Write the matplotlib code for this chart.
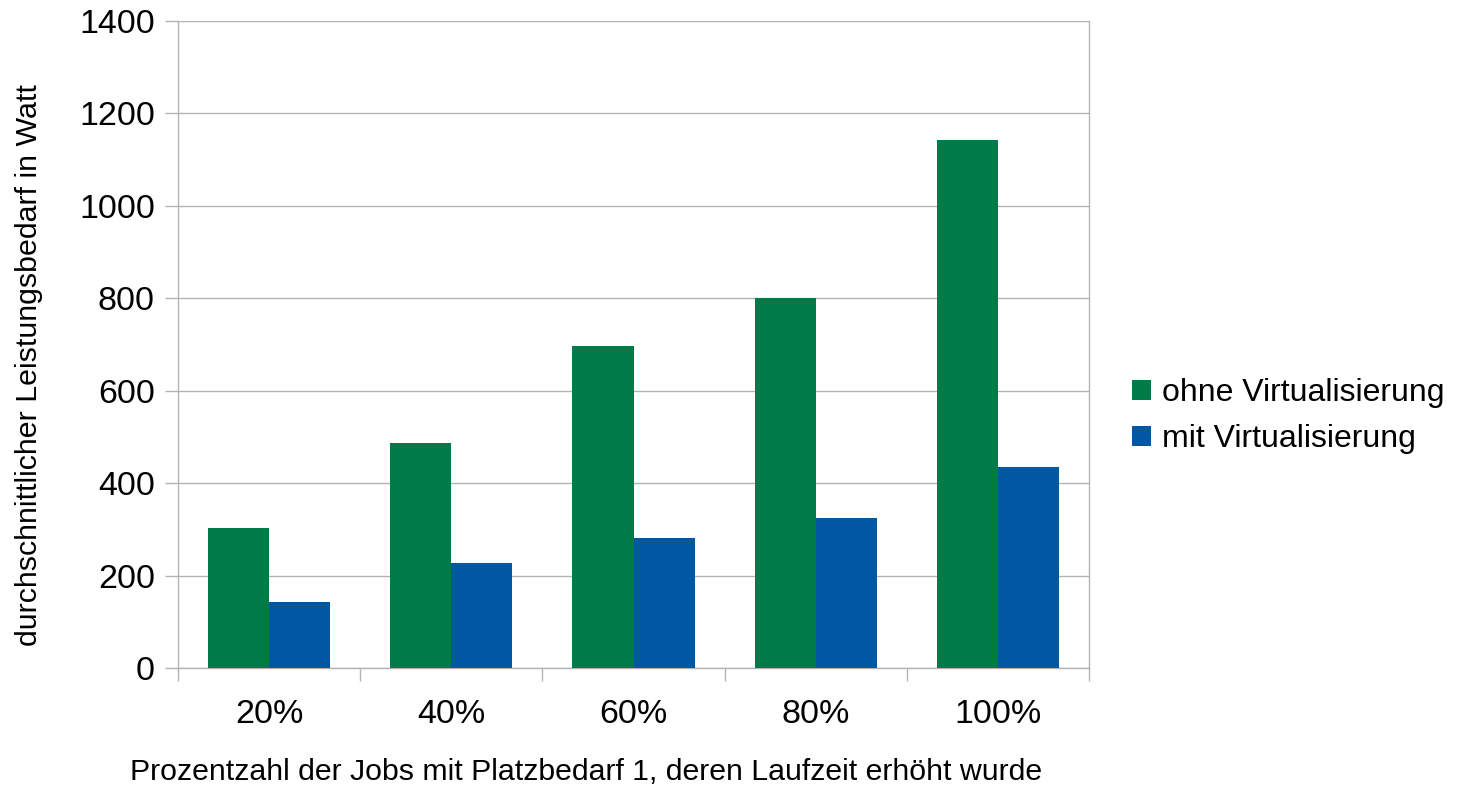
import numpy as np
import matplotlib.pyplot as plt

plt.rcParams["font.family"] = ["Liberation Sans", "DejaVu Sans"]

categories = ["20%", "40%", "60%", "80%", "100%"]
ohne_virt = [303, 487, 697, 801, 1143]
mit_virt = [143, 227, 281, 325, 435]

green = "#007a46"
blue = "#0058a2"
grid_col = "#b3b3b3"

fig = plt.figure(figsize=(14.57, 7.90), dpi=100)
ax = fig.add_axes([0.1222, 0.1544, 0.7474 - 0.1222, 0.9734 - 0.1544])

x = np.arange(len(categories))
w = 0.335
ax.bar(x - w / 2, ohne_virt, w, color=green, label="ohne Virtualisierung", zorder=3)
ax.bar(x + w / 2, mit_virt, w, color=blue, label="mit Virtualisierung", zorder=3)

ax.set_xlim(-0.5, len(categories) - 0.5)
ax.set_ylim(0, 1400)
ax.set_yticks(np.arange(0, 1401, 200))
ax.yaxis.grid(True, color=grid_col, linewidth=1)
ax.set_axisbelow(True)

# labels at category centres, tick marks on category borders
ax.set_xticks(x)
ax.set_xticklabels(categories)
ax.set_xticks(np.arange(-0.5, len(categories), 1.0), minor=True)
ax.tick_params(axis="x", which="major", length=0, pad=22, labelsize=24.5)
ax.tick_params(axis="x", which="minor", length=9.4, color=grid_col, width=1)
ax.tick_params(axis="y", length=9.4, color=grid_col, width=1, pad=7.2, labelsize=24.5)

for side in ["left", "right", "bottom"]:
    ax.spines[side].set_color(grid_col)
    ax.spines[side].set_linewidth(1)
ax.spines["top"].set_visible(False)

ax.set_xlabel("Prozentzahl der Jobs mit Platzbedarf 1, deren Laufzeit erhöht wurde",
              fontsize=21.8)
ax.xaxis.set_label_coords(0.448, -0.139)
ax.set_ylabel("durchschnittlicher Leistungsbedarf in Watt", fontsize=21.9)
ax.yaxis.set_label_coords(-0.148, 0.468)

fig.legend(loc="center left", bbox_to_anchor=(0.757, 0.473), frameon=False,
           fontsize=23, handlelength=0.6, handleheight=0.6, handletextpad=0.35,
           labelspacing=0.5)

fig.savefig("out.png", dpi=100)
